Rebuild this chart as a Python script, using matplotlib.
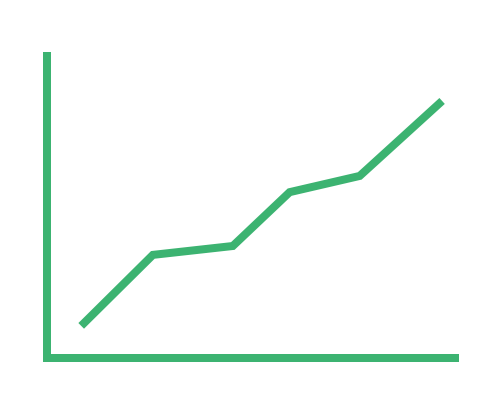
import matplotlib
matplotlib.use("Agg")
import matplotlib.pyplot as plt

# values (axis units 0..10)
x_vals = [0.83, 2.57, 4.51, 5.89, 7.59, 9.59]
y_vals = [1.05, 3.37, 3.66, 5.42, 5.95, 8.40]

green = '#3cb371'

fig = plt.figure(figsize=(5, 4), dpi=100)
ax = fig.add_axes([0.094, 0.105, 0.824, 0.765])
ax.set_xlim(0, 10)
ax.set_ylim(0, 10)
ax.axis('off')

# L-shaped axes
ax.plot([0, 0, 1], [1, 0, 0], transform=ax.transAxes, color=green, lw=5.76,
        solid_joinstyle='miter', solid_capstyle='butt', clip_on=False)

ax.plot(x_vals, y_vals, color=green, lw=5.76,
        solid_joinstyle='miter', solid_capstyle='butt')

fig.savefig('out.png', dpi=100)
